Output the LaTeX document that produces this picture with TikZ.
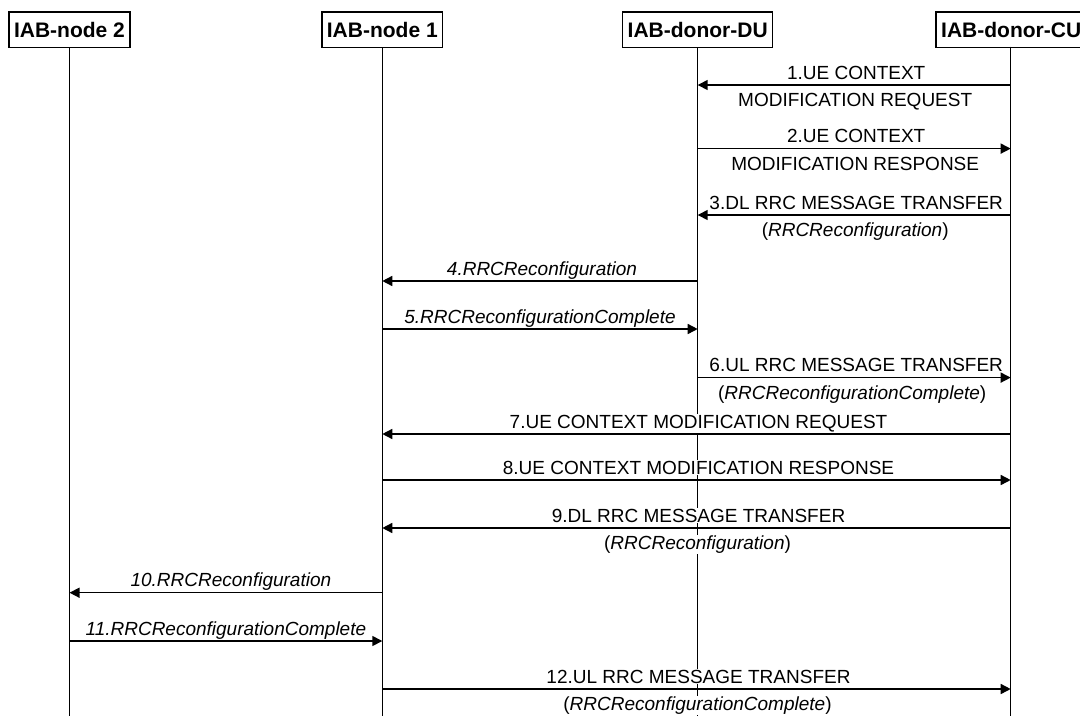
\documentclass[tikz,border=0pt]{standalone}
\usepackage{fontspec}
\setmainfont{Liberation Sans}
\usetikzlibrary{arrows.meta}
\begin{document}
\begin{tikzpicture}[x=1pt,y=-1pt,
  ent/.style={draw, line width=1.5pt, fill=white, font=\bfseries\fontsize{21}{25}\selectfont,
    minimum height=35.5pt, inner xsep=5pt, inner ysep=0pt, anchor=north},
  life/.style={line width=1.5pt},
  msg/.style={line width=1.5pt, -{Triangle[length=10pt,width=10pt]}},
  lbl/.style={fill=white, inner sep=1pt, anchor=base, font=\fontsize{19}{22}\selectfont, behind path},
  up/.style={lbl, yshift=6pt, xshift=2pt},
  dn/.style={lbl, yshift=-21.5pt, xshift=1pt},
]
\useasboundingbox (0,0) rectangle (1080,716);

% entities
\node[ent] (n2) at (69.5,11) {IAB-node 2};
\node[ent] (n1) at (382.3,11) {IAB-node 1};
\node[ent] (du) at (697.7,11) {IAB-donor-DU};
\node[ent] (cu) at (1011.2,11) {IAB-donor-CU};

% lifeline ends
\coordinate (n2e) at (69.5,716);
\coordinate (n1e) at (382.3,716);
\coordinate (due) at (697.7,716);
\coordinate (cue) at (1010.7,716);
\coordinate (cus) at (1010.7,46.5);

\draw[life] (n2.south) -- (n2e);
\draw[life] (n1.south) -- (n1e);
\draw[life] (du.south) -- (due);
\draw[life] (cus) -- (cue);

% message end points
\foreach \y/\k in {85/1,148.6/2,215/3,281/4,329/5,377.6/6,434/7,480/8,528/9,592.7/10,641/11,689/12}{
  \coordinate (n2m\k) at (69.5,\y);
  \coordinate (n1m\k) at (382.3,\y);
  \coordinate (dum\k) at (697.7,\y);
  \coordinate (cum\k) at (1010.7,\y);
}

\draw[msg] (cum1) -- node[up] {1.UE CONTEXT} node[dn] {MODIFICATION REQUEST} (dum1);
\draw[msg] (dum2) -- node[up] {2.UE CONTEXT} node[dn] {MODIFICATION RESPONSE} (cum2);
\draw[msg] (cum3) -- node[up] {3.DL RRC MESSAGE TRANSFER} node[dn] {(\textit{RRCReconfiguration})} (dum3);
\draw[msg] (dum4) -- node[up] {\textit{4.RRCReconfiguration}} (n1m4);
\draw[msg] (n1m5) -- node[up, xshift=-2pt] {\textit{5.RRCReconfigurationComplete}} (dum5);
\draw[msg] (dum6) -- node[up] {6.UL RRC MESSAGE TRANSFER} node[dn, xshift=-3pt] {(\textit{RRCReconfigurationComplete})} (cum6);
\draw[msg] (cum7) -- node[up] {7.UE CONTEXT MODIFICATION REQUEST} (n1m7);
\draw[msg] (n1m8) -- node[up] {8.UE CONTEXT MODIFICATION RESPONSE} (cum8);
\draw[msg] (cum9) -- node[up] {9.DL RRC MESSAGE TRANSFER} node[dn] {(\textit{RRCReconfiguration})} (n1m9);
\draw[msg] (n1m10) -- node[up, xshift=3pt] {\textit{10.RRCReconfiguration}} (n2m10);
\draw[msg] (n2m11) -- node[up, xshift=-2pt] {\textit{11.RRCReconfigurationComplete}} (n1m11);
\draw[msg] (n1m12) -- node[up] {12.UL RRC MESSAGE TRANSFER} node[dn] {(\textit{RRCReconfigurationComplete})} (cum12);
\end{tikzpicture}
\end{document}
